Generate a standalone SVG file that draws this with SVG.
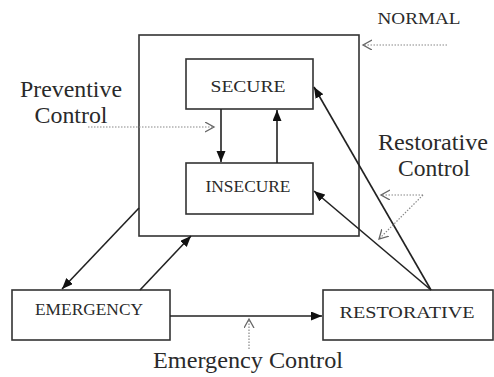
<svg xmlns="http://www.w3.org/2000/svg" width="494" height="377" viewBox="0 0 494 377">
<style>
.box{fill:#fff;stroke:#333;stroke-width:1.6}
.node{font-family:"Liberation Serif","Times New Roman",serif;font-size:17px;fill:#2a2a2a;text-anchor:middle}
.lbl{font-family:"Liberation Serif","Times New Roman",serif;font-size:23px;fill:#2a2a2a;text-anchor:middle}
.solid{stroke:#222;stroke-width:1.6;fill:none}
.dot{stroke:#888;stroke-width:1.2;stroke-dasharray:1.5 1.5;fill:none}
</style>
<defs>
<marker id="fa" markerUnits="userSpaceOnUse" markerWidth="12" markerHeight="10" refX="11" refY="4.5" orient="auto">
<path d="M0,0 L11,4.5 L0,9 z" fill="#111"/>
</marker>
<marker id="oa" markerUnits="userSpaceOnUse" markerWidth="12" markerHeight="12" refX="9" refY="5" orient="auto">
<path d="M0,0 L9,5 L0,10" fill="none" stroke="#666" stroke-width="1.3"/>
</marker>
</defs>
<g id="normal">
<rect class="box" x="139" y="35" width="220" height="201"/>
<text class="node" x="419" y="24" font-size="18" textLength="83" lengthAdjust="spacingAndGlyphs">NORMAL</text>
</g>
<g id="secure">
<rect class="box" x="186" y="59" width="127" height="50"/>
<text class="node" x="248" y="92" font-size="18" textLength="75" lengthAdjust="spacingAndGlyphs">SECURE</text>
</g>
<g id="insecure">
<rect class="box" x="186" y="163" width="127" height="51"/>
<text class="node" x="248" y="192" textLength="85" lengthAdjust="spacingAndGlyphs">INSECURE</text>
</g>
<g id="emergency">
<rect class="box" x="12" y="290" width="158" height="50"/>
<text class="node" x="89" y="315" textLength="108" lengthAdjust="spacingAndGlyphs">EMERGENCY</text>
</g>
<g id="restorative">
<rect class="box" x="323" y="290" width="170" height="50"/>
<text class="node" x="407" y="318" font-size="19" textLength="135" lengthAdjust="spacingAndGlyphs">RESTORATIVE</text>
</g>
<g id="labels">
<text class="lbl" x="71" y="97" textLength="102" lengthAdjust="spacingAndGlyphs">Preventive</text>
<text class="lbl" x="71" y="123" textLength="73" lengthAdjust="spacingAndGlyphs">Control</text>
<text class="lbl" x="433" y="150" textLength="110" lengthAdjust="spacingAndGlyphs">Restorative</text>
<text class="lbl" x="434" y="176" textLength="72" lengthAdjust="spacingAndGlyphs">Control</text>
<text class="lbl" x="248" y="368" textLength="190" lengthAdjust="spacingAndGlyphs">Emergency Control</text>
</g>
<g id="connectors">
<line class="solid" x1="221" y1="109" x2="221" y2="162" marker-end="url(#fa)"/>
<line class="solid" x1="277" y1="163" x2="277" y2="110" marker-end="url(#fa)"/>
<line class="solid" x1="431" y1="290" x2="314" y2="87" marker-end="url(#fa)"/>
<line class="solid" x1="431" y1="290" x2="314" y2="191" marker-end="url(#fa)"/>
<line class="solid" x1="139" y1="208" x2="62" y2="289" marker-end="url(#fa)"/>
<line class="solid" x1="140" y1="290" x2="191" y2="236" marker-end="url(#fa)"/>
<line class="solid" x1="170" y1="316" x2="322" y2="316" marker-end="url(#fa)"/>
<line class="dot" x1="447" y1="45" x2="363" y2="45" marker-end="url(#oa)"/>
<line class="dot" x1="88" y1="127" x2="214" y2="127" marker-end="url(#oa)"/>
<line class="dot" x1="423" y1="195" x2="381" y2="195" marker-end="url(#oa)"/>
<line class="dot" x1="423" y1="195" x2="379" y2="239" marker-end="url(#oa)"/>
<line class="dot" x1="249" y1="349" x2="249" y2="319" marker-end="url(#oa)"/>
</g>
</svg>
